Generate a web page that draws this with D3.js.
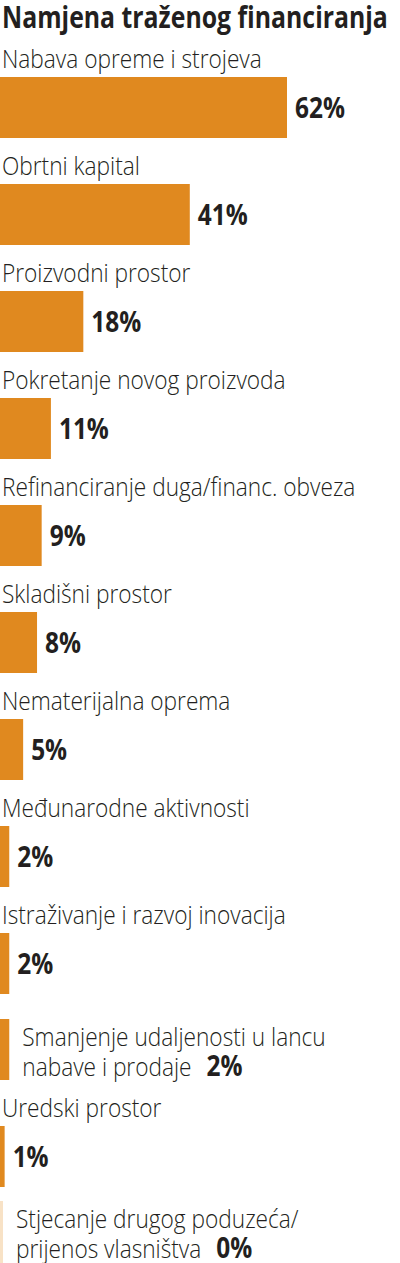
<!DOCTYPE html>
<html><head><meta charset="utf-8">
<script src="https://cdn.jsdelivr.net/npm/d3@7"></script>
<style>
html,body{margin:0;padding:0;background:#fff;}
svg{display:block;}
</style></head>
<body>
<script>
const title = "Namjena traženog financiranja";
const categories = [
  ["Nabava opreme i strojeva"],
  ["Obrtni kapital"],
  ["Proizvodni prostor"],
  ["Pokretanje novog proizvoda"],
  ["Refinanciranje duga/financ. obveza"],
  ["Skladišni prostor"],
  ["Nematerijalna oprema"],
  ["Međunarodne aktivnosti"],
  ["Istraživanje i razvoj inovacija"],
  ["Smanjenje udaljenosti u lancu", "nabave i prodaje"],
  ["Uredski prostor"],
  ["Stjecanje drugog poduzeća/", "prijenos vlasništva"]
];
const values = [62, 41, 18, 11, 9, 8, 5, 2, 2, 2, 1, 0];
const valueLabels = ["62%","41%","18%","11%","9%","8%","5%","2%","2%","2%","1%","0%"];

const W = 400, H = 1263;
const ORANGE = "#E0891F", INK = "#231F20";
const svg = d3.select("body").append("svg").attr("width", W).attr("height", H);

const LABEL_FONT = "'Open Sans', 'Noto Sans', sans-serif";
const BOLD_FONT = "'Open Sans', 'Noto Sans', sans-serif";

// helper: text drawn at (x,y) with horizontal compression k
function addText(parent, txt, xx, yy, style) {
  const g = parent.append("g");
  const t = g.append("text").attr("x", 0).attr("y", 0)
    .attr("font-family", style.family).attr("font-weight", style.weight)
    .attr("font-size", style.size).attr("fill", INK).text(txt);
  g.attr("transform", `translate(${xx},${yy}) scale(${style.k},1)`);
  return {g, t, width: t.node().getComputedTextLength() * style.k};
}
function measure(txt, style) {
  const t = svg.append("text").attr("font-family", style.family)
    .attr("font-weight", style.weight).attr("font-size", style.size).text(txt);
  const w = t.node().getComputedTextLength(); t.remove(); return w;
}

const titleStyle = {family: BOLD_FONT, weight: 700, size: 31, k: 1};
titleStyle.k = 386 / measure(title, titleStyle);
const labelStyle = {family: LABEL_FONT, weight: 300, size: 26, k: 1};
labelStyle.k = 260 / measure(categories[0][0], labelStyle);
const valStyle = {family: BOLD_FONT, weight: 700, size: 28, k: 1};
valStyle.k = 50 / measure(valueLabels[0], valStyle);

addText(svg, title, 2, 28, titleStyle);

const x = d3.scaleLinear().domain([0, 62]).range([0, 287]);
const barH = 61;

// vertical layout: rows with one-line label get label above; two-line labels sit beside the bar
let y = 77;
const rows = categories.map((c, i) => {
  const side = c.length > 1;
  if (i > 0) y += barH + (i === categories.length - 1 ? 14 : 25) + (side ? 0 : 21);
  return {lines: c, side, v: values[i], lab: valueLabels[i], top: y};
});

const g = svg.selectAll("g.row").data(rows).join("g").attr("class", "row");

g.append("rect")
  .attr("x", 0).attr("y", d => d.top)
  .attr("width", d => d.v === 0 ? 3 : x(d.v))
  .attr("height", d => d.v === 0 ? H - d.top : barH)
  .attr("fill", d => d.v === 0 ? "#F8E2C6" : ORANGE);

g.each(function(d) {
  const s = d3.select(this);
  if (!d.side) {
    addText(s, d.lines[0], 2, d.top - 9, labelStyle);
    addText(s, d.lab, x(d.v) + 8, d.top + barH / 2 + 10, valStyle);
  } else {
    const lx = Math.max(x(d.v), 3) + 13;
    addText(s, d.lines[0], lx, d.top + 27, labelStyle);
    const t2 = addText(s, d.lines[1], lx, d.top + 57, labelStyle);
    addText(s, d.lab, lx + t2.width + 15, d.top + 57, valStyle);
  }
});
</script>
</body></html>
